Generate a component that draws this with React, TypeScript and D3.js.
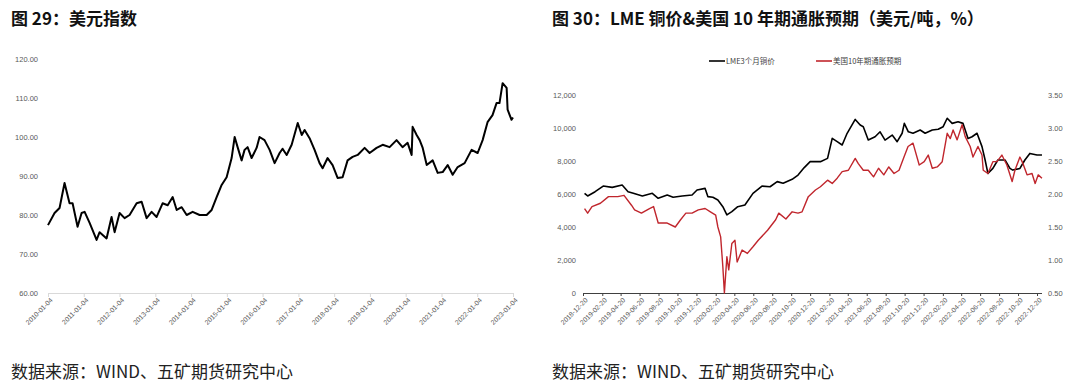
import * as d3 from "d3";
import { useEffect, useRef } from "react";

// 美元指数 (left chart)
const dxySeries: [string, number][] = [
  ["2010-01-04", 77.4], ["2010-03-12", 80.5], ["2010-05-02", 81.8], ["2010-06-22", 88.2],
  ["2010-08-12", 83.0], ["2010-09-12", 83.0], ["2010-11-02", 77.0], ["2010-12-13", 80.5],
  ["2011-01-13", 80.8], ["2011-03-05", 78.0], ["2011-05-15", 73.6], ["2011-06-15", 75.6],
  ["2011-08-25", 74.0], ["2011-10-15", 79.5], ["2011-11-15", 75.6], ["2012-01-05", 80.5],
  ["2012-02-25", 79.2], ["2012-04-16", 80.0], ["2012-06-27", 83.0], ["2012-08-17", 83.4],
  ["2012-10-07", 79.2], ["2012-11-27", 80.8], ["2013-01-17", 79.5], ["2013-03-19", 83.0],
  ["2013-05-10", 82.5], ["2013-06-30", 84.6], ["2013-08-10", 81.3], ["2013-09-30", 82.0],
  ["2013-11-20", 80.0], ["2014-01-20", 80.8], ["2014-04-01", 80.0], ["2014-06-12", 80.0],
  ["2014-08-02", 81.3], ["2014-09-22", 84.6], ["2014-11-12", 87.7], ["2015-01-02", 89.7],
  ["2015-02-22", 94.6], ["2015-03-25", 100.0], ["2015-04-24", 97.4], ["2015-06-04", 94.0],
  ["2015-07-04", 96.7], ["2015-08-04", 97.4], ["2015-09-14", 94.6], ["2015-11-04", 97.2],
  ["2015-12-04", 100.0], ["2016-01-24", 99.2], ["2016-03-16", 96.7], ["2016-05-06", 93.3],
  ["2016-06-26", 95.9], ["2016-07-26", 97.0], ["2016-09-06", 95.4], ["2016-10-27", 98.0],
  ["2016-12-28", 103.6], ["2017-02-07", 100.5], ["2017-03-08", 101.8], ["2017-04-28", 99.7],
  ["2017-06-18", 96.7], ["2017-08-08", 93.3], ["2017-09-08", 92.0], ["2017-10-29", 94.6],
  ["2017-12-19", 92.8], ["2018-02-08", 89.5], ["2018-03-31", 89.7], ["2018-05-21", 94.0],
  ["2018-07-11", 94.9], ["2018-09-01", 95.4], ["2018-11-11", 97.2], ["2019-01-01", 95.9],
  ["2019-03-13", 97.2], ["2019-05-14", 98.0], ["2019-07-24", 97.4], ["2019-10-03", 99.2],
  ["2019-12-03", 97.4], ["2020-01-24", 98.5], ["2020-03-05", 95.4], ["2020-03-15", 102.6],
  ["2020-04-25", 100.5], ["2020-05-26", 99.2], ["2020-06-26", 97.2], ["2020-08-06", 92.8],
  ["2020-10-06", 94.0], ["2020-11-26", 90.8], ["2021-01-16", 91.0], ["2021-03-08", 92.8],
  ["2021-04-28", 90.3], ["2021-06-18", 92.3], ["2021-08-28", 93.3], ["2021-11-07", 96.7],
  ["2022-01-08", 95.9], ["2022-02-28", 99.2], ["2022-04-19", 103.8], ["2022-06-09", 105.6],
  ["2022-07-20", 108.7], ["2022-08-19", 108.7], ["2022-09-20", 113.8], ["2022-10-31", 112.6],
  ["2022-11-10", 107.0], ["2022-12-20", 104.4], ["2023-01-04", 105.0],
];
const dxyTicks = [
  "2010-01-04", "2011-01-04", "2012-01-04", "2013-01-04", "2014-01-04", "2015-01-04", "2016-01-04",
  "2017-01-04", "2018-01-04", "2019-01-04", "2020-01-04", "2021-01-04", "2022-01-04", "2023-01-04",
];
const dxyYTicks = [60, 70, 80, 90, 100, 110, 120];

// LME3个月铜价 (left axis, 美元/吨)
const copperSeries: [string, number][] = [
  ["2018-12-25", 6040], ["2019-01-04", 5880], ["2019-01-28", 6140], ["2019-02-23", 6480],
  ["2019-03-24", 6400], ["2019-04-25", 6540], ["2019-05-14", 6140], ["2019-05-31", 6040],
  ["2019-06-29", 5880], ["2019-07-31", 6040], ["2019-08-19", 5740], ["2019-09-17", 5940],
  ["2019-10-06", 5800], ["2019-11-04", 5880], ["2019-12-06", 5940], ["2019-12-22", 6240],
  ["2020-01-17", 6340], ["2020-01-26", 5840], ["2020-02-11", 5800], ["2020-02-27", 5640],
  ["2020-03-14", 5230], ["2020-03-27", 4730], ["2020-04-12", 4930], ["2020-05-01", 5230],
  ["2020-05-24", 5330], ["2020-06-19", 6040], ["2020-07-18", 6480], ["2020-08-13", 6440],
  ["2020-09-05", 6750], ["2020-09-24", 6650], ["2020-10-23", 6890], ["2020-11-11", 7150],
  ["2020-12-01", 7600], ["2020-12-20", 7960], ["2021-01-22", 7960], ["2021-02-14", 8160],
  ["2021-03-01", 9370], ["2021-03-17", 9170], ["2021-04-02", 8970], ["2021-04-18", 9680],
  ["2021-05-14", 10520], ["2021-05-30", 10180], ["2021-06-09", 10080], ["2021-06-25", 9270],
  ["2021-07-17", 9470], ["2021-08-02", 9770], ["2021-08-18", 9270], ["2021-09-10", 9570],
  ["2021-09-26", 9170], ["2021-10-12", 9680], ["2021-10-19", 10280], ["2021-11-01", 9770],
  ["2021-11-16", 9680], ["2021-12-09", 9880], ["2021-12-25", 9680], ["2022-01-17", 9880],
  ["2022-02-05", 9920], ["2022-02-21", 10080], ["2022-03-06", 10590], ["2022-03-22", 10280],
  ["2022-04-10", 10380], ["2022-04-26", 10280], ["2022-05-12", 9370], ["2022-05-25", 9470],
  ["2022-06-10", 9680], ["2022-06-26", 8870], ["2022-07-06", 8060], ["2022-07-15", 7250],
  ["2022-07-31", 7550], ["2022-08-16", 8060], ["2022-09-08", 8060], ["2022-09-24", 7550],
  ["2022-10-03", 7450], ["2022-10-26", 7550], ["2022-11-11", 8060], ["2022-11-27", 8460],
  ["2022-12-20", 8360], ["2023-01-05", 8360],
];

// 美国10年期通胀预期 (right axis, %)
const breakevenSeries: [string, number][] = [
  ["2018-12-25", 1.78], ["2019-01-04", 1.71], ["2019-01-18", 1.81], ["2019-02-14", 1.86],
  ["2019-03-12", 1.96], ["2019-04-11", 1.96], ["2019-05-01", 1.98], ["2019-05-25", 1.83],
  ["2019-06-04", 1.76], ["2019-06-26", 1.71], ["2019-07-22", 1.78], ["2019-08-04", 1.81],
  ["2019-08-19", 1.56], ["2019-09-17", 1.56], ["2019-10-13", 1.5], ["2019-10-30", 1.61],
  ["2019-11-16", 1.71], ["2019-12-06", 1.71], ["2019-12-26", 1.76], ["2020-01-17", 1.78],
  ["2020-02-03", 1.73], ["2020-02-20", 1.68], ["2020-02-27", 1.5], ["2020-03-07", 1.35],
  ["2020-03-14", 0.9], ["2020-03-19", 0.5], ["2020-03-27", 1.05], ["2020-04-02", 0.85],
  ["2020-04-12", 1.25], ["2020-04-22", 1.3], ["2020-04-29", 0.97], ["2020-05-15", 1.15],
  ["2020-06-01", 1.1], ["2020-06-19", 1.2], ["2020-07-06", 1.3], ["2020-08-05", 1.45],
  ["2020-08-31", 1.61], ["2020-09-10", 1.71], ["2020-10-03", 1.62], ["2020-10-23", 1.73],
  ["2020-11-11", 1.71], ["2020-11-24", 1.73], ["2020-12-14", 1.96], ["2021-01-06", 2.06],
  ["2021-01-22", 2.11], ["2021-02-14", 2.21], ["2021-03-01", 2.16], ["2021-03-17", 2.24],
  ["2021-04-02", 2.34], ["2021-04-22", 2.36], ["2021-05-14", 2.54], ["2021-05-24", 2.46],
  ["2021-06-09", 2.36], ["2021-06-25", 2.36], ["2021-07-12", 2.26], ["2021-07-28", 2.39],
  ["2021-08-14", 2.29], ["2021-08-30", 2.41], ["2021-09-16", 2.31], ["2021-10-02", 2.36],
  ["2021-10-18", 2.56], ["2021-10-31", 2.72], ["2021-11-16", 2.77], ["2021-12-06", 2.44],
  ["2021-12-22", 2.49], ["2022-01-04", 2.59], ["2022-01-17", 2.39], ["2022-02-02", 2.41],
  ["2022-02-18", 2.49], ["2022-03-06", 2.92], ["2022-03-16", 2.84], ["2022-03-25", 2.97],
  ["2022-04-07", 2.82], ["2022-04-23", 3.05], ["2022-05-03", 2.87], ["2022-05-19", 2.72],
  ["2022-05-28", 2.56], ["2022-06-13", 2.72], ["2022-06-26", 2.59], ["2022-06-30", 2.36],
  ["2022-07-15", 2.31], ["2022-07-31", 2.49], ["2022-08-13", 2.49], ["2022-08-29", 2.59],
  ["2022-09-14", 2.44], ["2022-10-01", 2.19], ["2022-10-10", 2.36], ["2022-10-26", 2.56],
  ["2022-11-05", 2.46], ["2022-11-18", 2.29], ["2022-12-04", 2.31], ["2022-12-14", 2.16],
  ["2022-12-24", 2.29], ["2023-01-05", 2.24],
];
const copperTicks = [
  "2018-12-20", "2019-02-20", "2019-04-20", "2019-06-20", "2019-08-20", "2019-10-20", "2019-12-20",
  "2020-02-20", "2020-04-20", "2020-06-20", "2020-08-20", "2020-10-20", "2020-12-20",
  "2021-02-20", "2021-04-20", "2021-06-20", "2021-08-20", "2021-10-20", "2021-12-20",
  "2022-02-20", "2022-04-20", "2022-06-20", "2022-08-20", "2022-10-20", "2022-12-20",
];
const copperYTicks = [0, 2000, 4000, 6000, 8000, 10000, 12000];
const breakevenYTicks = [0.5, 1.0, 1.5, 2.0, 2.5, 3.0, 3.5];

const legendNames = ["LME3个月铜价", "美国10年期通胀预期"];
const legendColors = ["#000000", "#c0262d"];

const parse = d3.timeParse("%Y-%m-%d");
const fmtDate = d3.timeFormat("%Y-%m-%d");
const cjk = "'Noto Sans CJK SC', sans-serif";
const small = "'Liberation Sans', Arial, sans-serif";

export default function App() {
  const ref = useRef<SVGSVGElement | null>(null);

  useEffect(() => {
    if (!ref.current) return;
    const svg = d3.select(ref.current);
    svg.selectAll("*").remove();

    svg.append("rect").attr("width", 1080).attr("height", 386).attr("fill", "#fff");

    // titles + sources
    const titles = ["图 29：美元指数", "图 30：LME 铜价&美国 10 年期通胀预期（美元/吨，%）"];
    [11, 552].forEach((x, i) => {
      svg.append("text").attr("x", x).attr("y", 25).text(titles[i])
        .style("font-family", cjk).style("font-size", "17px").style("font-weight", 700).attr("fill", "#111");
      svg.append("text").attr("x", x).attr("y", 378).text("数据来源：WIND、五矿期货研究中心")
        .style("font-family", cjk).style("font-size", "17px").attr("fill", "#222");
    });

    const styleTicks = (g: any, size = "7.5px") =>
      g.selectAll(".tick text").style("font-family", small).style("font-size", size).attr("fill", "#595959");

    const rotateLabels = (g: any) =>
      g.selectAll(".tick text")
        .attr("x", 0).attr("y", 0).attr("dy", "0.35em")
        .attr("text-anchor", "end")
        .attr("transform", "translate(3,6) rotate(-45)");

    // ---- left chart: 美元指数
    const x1 = d3.scaleTime().domain([parse("2010-01-04")!, parse("2023-01-04")!]).range([48, 513]);
    const y1 = d3.scaleLinear().domain([60, 120]).range([293, 59]);

    const gx1 = svg.append("g").attr("transform", "translate(0,293)")
      .call(d3.axisBottom(x1).tickValues(dxyTicks.map((d) => parse(d)!)).tickSize(4).tickFormat((d: any) => fmtDate(d)));
    gx1.select(".domain").attr("stroke", "#d9d9d9");
    gx1.selectAll(".tick line").attr("stroke", "#d9d9d9");
    styleTicks(gx1, "6.8px");
    rotateLabels(gx1);

    const gy1 = svg.append("g").attr("transform", "translate(48,0)")
      .call(d3.axisLeft(y1).tickValues(dxyYTicks).tickSize(0).tickPadding(10).tickFormat(d3.format(".2f")));
    gy1.select(".domain").remove();
    styleTicks(gy1);

    const line1 = d3.line<[string, number]>().x((d) => x1(parse(d[0])!)).y((d) => y1(d[1]));
    svg.append("path").datum(dxySeries).attr("d", line1).attr("fill", "none")
      .attr("stroke", "#000").attr("stroke-width", 2).attr("stroke-linejoin", "round");

    // ---- right chart: LME 铜价 & 通胀预期
    const x2 = d3.scaleTime().domain([parse("2018-12-20")!, parse("2022-12-20")!]).range([583, 1037]);
    const yL = d3.scaleLinear().domain([0, 12000]).range([293, 95]);
    const yR = d3.scaleLinear().domain([0.5, 3.5]).range([293, 95]);

    const gx2 = svg.append("g").attr("transform", "translate(0,293)")
      .call(d3.axisBottom(x2).tickValues(copperTicks.map((d) => parse(d)!)).tickSize(3).tickFormat((d: any) => fmtDate(d)));
    gx2.select(".domain").remove();
    gx2.selectAll(".tick line").attr("stroke", "#404040");
    styleTicks(gx2, "6.8px");
    rotateLabels(gx2);
    svg.append("line").attr("x1", 583).attr("x2", 1042).attr("y1", 293.5).attr("y2", 293.5)
      .attr("stroke", "#404040").attr("stroke-width", 1);

    const gyL = svg.append("g").attr("transform", "translate(583,0)")
      .call(d3.axisLeft(yL).tickValues(copperYTicks).tickSize(0).tickPadding(7).tickFormat(d3.format(",")));
    gyL.select(".domain").remove();
    styleTicks(gyL);

    const gyR = svg.append("g").attr("transform", "translate(1042,0)")
      .call(d3.axisRight(yR).tickValues(breakevenYTicks).tickSize(0).tickPadding(6).tickFormat(d3.format(".2f")));
    gyR.select(".domain").remove();
    styleTicks(gyR);

    const lineL = d3.line<[string, number]>().x((d) => x2(parse(d[0])!)).y((d) => yL(d[1]));
    const lineR = d3.line<[string, number]>().x((d) => x2(parse(d[0])!)).y((d) => yR(d[1]));
    svg.append("path").datum(copperSeries).attr("d", lineL).attr("fill", "none")
      .attr("stroke", legendColors[0]).attr("stroke-width", 1.6).attr("stroke-linejoin", "round");
    svg.append("path").datum(breakevenSeries).attr("d", lineR).attr("fill", "none")
      .attr("stroke", legendColors[1]).attr("stroke-width", 1.4).attr("stroke-linejoin", "round");

    // legend
    const legend = svg.append("g").attr("transform", "translate(0,61)");
    [709, 816].forEach((lx, i) => {
      legend.append("line").attr("x1", lx).attr("x2", lx + 16).attr("y1", 0).attr("y2", 0)
        .attr("stroke", legendColors[i]).attr("stroke-width", 1.6);
      legend.append("text").attr("x", lx + 17).attr("y", 0).attr("dy", "0.35em").text(legendNames[i])
        .style("font-family", cjk).style("font-size", "7.5px").attr("fill", "#404040");
    });
  }, []);

  return (
    <svg
      ref={ref}
      width={1080}
      height={386}
      style={{ position: "absolute", left: 0, top: 0 }}
    />
  );
}
